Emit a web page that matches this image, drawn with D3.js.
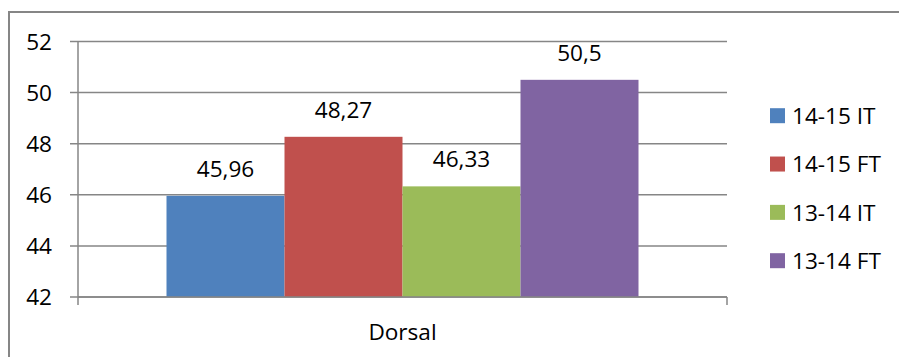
<!DOCTYPE html>
<html>
<head>
<meta charset="utf-8">
<script src="https://cdn.jsdelivr.net/npm/d3@7"></script>
<style>
  html, body { margin: 0; padding: 0; background: #fff; }
  svg { display: block; font-family: "Open Sans", "Noto Sans", sans-serif; }
</style>
</head>
<body>
<svg id="chart" width="899" height="357"></svg>
<script>
// Chart data
const categories = ["Dorsal"];
const seriesNames = ["14-15 IT", "14-15 FT", "13-14 IT", "13-14 FT"];
const seriesValues = [45.96, 48.27, 46.33, 50.5];
const valueLabels = ["45,96", "48,27", "46,33", "50,5"];
const seriesColors = ["#4F81BD", "#C0504D", "#9BBB59", "#8064A2"];
const yTicks = [42, 44, 46, 48, 50, 52];

const svg = d3.select("#chart");
const W = 899, H = 357;
const plot = { left: 78, right: 727, top: 41.5, bottom: 297 };
const axisColor = "#868686";
const fontSize = 22.6;

// Outer chart frame (extends past the right/bottom edge)
svg.append("rect")
  .attr("x", 9).attr("y", 12)
  .attr("width", W + 20).attr("height", H + 20)
  .attr("fill", "none")
  .attr("stroke", axisColor)
  .attr("stroke-width", 2);

const y = d3.scaleLinear().domain([42, 52]).range([plot.bottom, plot.top]);

const x0 = d3.scaleBand().domain(categories)
  .range([plot.left, plot.right]).paddingInner(0).paddingOuter(0);

// Bars occupy the group width minus a 150% gap
const gapWidth = 1.5;
const groupW = x0.bandwidth();
const barW = groupW / (seriesNames.length + gapWidth);
const x1 = d3.scaleBand().domain(seriesNames)
  .range([0, barW * seriesNames.length]).padding(0);

// Gridlines and left ticks
svg.append("g").selectAll("line").data(yTicks).join("line")
  .attr("x1", plot.left - 8).attr("x2", plot.right)
  .attr("y1", d => y(d)).attr("y2", d => y(d))
  .attr("stroke", axisColor).attr("stroke-width", 1.5);

// Y tick labels
svg.append("g").selectAll("text").data(yTicks).join("text")
  .attr("x", 52)
  .attr("y", d => y(d))
  .attr("dy", "0.36em")
  .attr("text-anchor", "end")
  .attr("font-size", fontSize)
  .attr("fill", "#000")
  .text(d => d);

// Bars
const groups = svg.append("g").selectAll("g").data(categories).join("g")
  .attr("transform", d => `translate(${x0(d) + (groupW - barW * seriesNames.length) / 2},0)`);

const barData = seriesNames.map((s, i) => ({ s, v: seriesValues[i], c: seriesColors[i], l: valueLabels[i] }));

groups.selectAll("rect").data(barData).join("rect")
  .attr("x", d => x1(d.s))
  .attr("y", d => y(d.v))
  .attr("width", x1.bandwidth())
  .attr("height", d => y(42) - y(d.v))
  .attr("fill", d => d.c);

// Value labels
groups.selectAll("text").data(barData).join("text")
  .attr("x", d => x1(d.s) + x1.bandwidth() / 2)
  .attr("y", d => y(d.v) - 19)
  .attr("text-anchor", "middle")
  .attr("font-size", fontSize)
  .attr("fill", "#000")
  .text(d => d.l);

// Y axis line and X axis line with end ticks
svg.append("line")
  .attr("x1", plot.left).attr("x2", plot.left)
  .attr("y1", plot.top).attr("y2", plot.bottom + 8)
  .attr("stroke", axisColor).attr("stroke-width", 1.5);
svg.append("line")
  .attr("x1", plot.left).attr("x2", plot.right)
  .attr("y1", plot.bottom).attr("y2", plot.bottom)
  .attr("stroke", axisColor).attr("stroke-width", 1.5);
svg.append("line")
  .attr("x1", plot.right).attr("x2", plot.right)
  .attr("y1", plot.bottom).attr("y2", plot.bottom + 8)
  .attr("stroke", axisColor).attr("stroke-width", 1.5);

// Category label
svg.append("g").selectAll("text").data(categories).join("text")
  .attr("x", d => x0(d) + groupW / 2)
  .attr("y", 340)
  .attr("text-anchor", "middle")
  .attr("font-size", fontSize)
  .attr("fill", "#000")
  .text(d => d);

// Legend
const legendRowY = d3.scalePoint().domain(seriesNames).range([115.7, 260.7]);
const legend = svg.append("g").selectAll("g").data(seriesNames).join("g")
  .attr("transform", d => `translate(770,${legendRowY(d)})`);
legend.append("rect")
  .attr("x", 0).attr("y", -7.5)
  .attr("width", 15).attr("height", 15)
  .attr("fill", (d, i) => seriesColors[i]);
legend.append("text")
  .attr("x", 22).attr("y", 0)
  .attr("dy", "0.36em")
  .attr("font-size", fontSize)
  .attr("fill", "#000")
  .text(d => d);
</script>
</body>
</html>
